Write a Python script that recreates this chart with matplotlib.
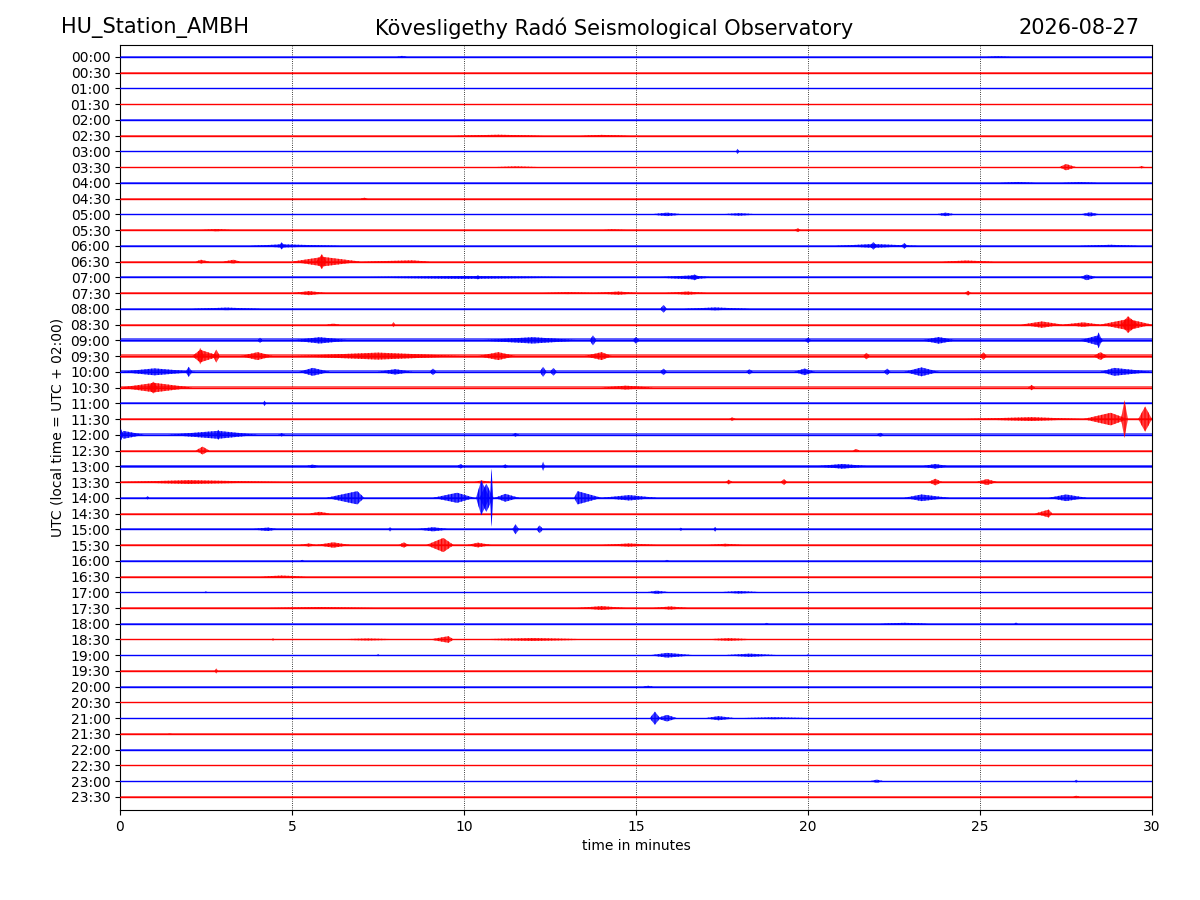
import matplotlib
matplotlib.use("Agg")
import matplotlib.pyplot as plt
from matplotlib.patches import Polygon

row_labels = [f"{h:02d}:{m:02d}" for h in range(24) for m in (0, 30)]
row_colors = ["#0000ff", "#ff0000"]

# background noise half-height per row (in units of row spacing)
noise_level = [0.03, 0.03, 0.05, 0.03, 0.03, 0.04, 0.05, 0.04, 0.04, 0.04,
               0.05, 0.05, 0.06, 0.07, 0.07, 0.07, 0.07, 0.07, 0.12, 0.15,
               0.10, 0.08, 0.07, 0.07, 0.09, 0.06, 0.08, 0.09, 0.07, 0.06,
               0.07, 0.07, 0.04, 0.04, 0.04, 0.04, 0.04, 0.05, 0.04, 0.04,
               0.03, 0.04, 0.04, 0.03, 0.03, 0.04, 0.04, 0.03]

# bursts: row label, start minute, peak minute, end minute, half amplitude (row units)
burst_row = ["00:00", "00:00",
             "02:30", "02:30",
             "03:00",
             "03:30", "03:30", "03:30",
             "04:00", "04:00",
             "04:30",
             "05:00", "05:00", "05:00", "05:00",
             "05:30", "05:30", "05:30",
             "06:00", "06:00", "06:00", "06:00", "06:00", "06:00",
             "06:30", "06:30", "06:30", "06:30", "06:30", "06:30",
             "07:00", "07:00", "07:00", "07:00", "07:00",
             "07:30", "07:30", "07:30", "07:30", "07:30",
             "08:00", "08:00", "08:00",
             "08:30", "08:30", "08:30", "08:30", "08:30", "08:30",
             "09:00", "09:00", "09:00", "09:00", "09:00", "09:00", "09:00", "09:00", "09:00",
             "09:30", "09:30", "09:30", "09:30", "09:30", "09:30", "09:30", "09:30", "09:30", "09:30",
             "10:00", "10:00", "10:00", "10:00", "10:00", "10:00", "10:00", "10:00", "10:00",
             "10:00", "10:00", "10:00", "10:00",
             "10:30", "10:30", "10:30", "10:30",
             "11:00",
             "11:30", "11:30", "11:30", "11:30", "11:30",
             "12:00", "12:00", "12:00", "12:00", "12:00", "12:00", "12:00",
             "12:30", "12:30",
             "13:00", "13:00", "13:00", "13:00", "13:00", "13:00",
             "13:30", "13:30", "13:30", "13:30", "13:30", "13:30",
             "14:00", "14:00", "14:00", "14:00", "14:00", "14:00", "14:00", "14:00", "14:00",
             "14:00", "14:00",
             "14:30", "14:30",
             "15:00", "15:00", "15:00", "15:00", "15:00", "15:00", "15:00",
             "15:30", "15:30", "15:30", "15:30", "15:30", "15:30", "15:30",
             "16:00", "16:00",
             "16:30",
             "17:00", "17:00", "17:00",
             "17:30", "17:30", "17:30",
             "18:00", "18:00", "18:00",
             "18:30", "18:30", "18:30", "18:30", "18:30",
             "19:00", "19:00", "19:00", "19:00",
             "19:30",
             "20:00",
             "21:00", "21:00", "21:00", "21:00",
             "21:30",
             "23:00", "23:00",
             "23:30"]
burst_t0 = [8.05, 25.2,
            9.7, 13.4,
            17.9,
            10.8, 27.3, 29.6,
            25.6, 27.4,
            7.0,
            15.4, 17.4, 23.7, 27.9,
            2.3, 19.6, 14.0,
            3.8, 4.6, 20.8, 21.8, 22.7, 27.9,
            5.0, 5.7, 2.2, 3.0, 23.9, 7.0,
            6.2, 10.3, 15.5, 16.5, 27.9,
            5.0, 13.7, 15.8, 24.55, 12.2,
            2.1, 15.7, 16.4,
            6.0, 7.9, 26.2, 27.4, 28.5, 29.1,
            4.0, 5.0, 10.4, 13.65, 14.9, 19.9, 23.3, 27.9, 28.35,
            2.1, 2.25, 2.7, 3.5, 5.0, 10.4, 13.5, 21.6, 25.0, 28.3,
            0.0, 1.9, 5.2, 7.5, 9.0, 12.2, 12.5, 15.7, 18.2,
            19.6, 22.2, 22.8, 28.5,
            0.0, 0.8, 14.0, 26.4,
            4.15,
            24.5, 28.0, 29.1, 29.6, 17.7,
            0.0, 0.0, 1.4, 2.8, 4.6, 22.0, 11.4,
            2.2, 21.3,
            5.4, 9.8, 11.1, 12.25, 20.2, 23.3,
            0.0, 17.6, 19.2, 23.5, 24.9, 10.3,
            0.75, 6.0, 9.1, 10.35, 10.45, 10.75, 10.9, 13.2, 14.0,
            22.8, 27.0,
            5.5, 26.6,
            3.8, 7.8, 8.6, 11.4, 12.1, 16.25, 17.25,
            5.2, 5.7, 8.1, 8.9, 10.1, 14.0, 17.1,
            5.25, 15.85,
            4.1,
            2.45, 15.3, 17.4,
            4.3, 13.3, 15.5,
            18.75, 22.1, 26.0,
            4.4, 6.0, 9.0, 10.1, 16.9,
            7.45, 15.4, 17.5, 19.95,
            2.75,
            15.2,
            15.4, 15.6, 17.0, 17.9,
            1.4,
            21.8, 27.75,
            27.7]
burst_tp = [8.2, 25.5,
            11.0, 14.0,
            17.95,
            11.5, 27.5, 29.7,
            26.1, 27.9,
            7.1,
            15.9, 18.0, 24.0, 28.2,
            2.8, 19.7, 14.3,
            4.7, 4.7, 21.9, 21.9, 22.8, 28.8,
            5.9, 5.87, 2.35, 3.3, 24.6, 8.5,
            10.0, 10.4, 16.6, 16.7, 28.1,
            5.5, 14.5, 16.5, 24.65, 13.0,
            3.1, 15.8, 17.3,
            6.2, 7.95, 26.8, 28.0, 29.3, 29.3,
            4.07, 5.8, 12.0, 13.75, 15.0, 20.0, 23.8, 28.4, 28.45,
            2.33, 2.33, 2.8, 4.0, 7.5, 11.0, 14.0, 21.7, 25.1, 28.5,
            1.0, 2.0, 5.6, 8.0, 9.1, 12.3, 12.6, 15.8, 18.3,
            19.9, 22.3, 23.3, 28.9,
            1.0, 0.97, 14.7, 26.5,
            4.2,
            26.5, 28.8, 29.2, 29.8, 17.8,
            0.1, 0.02, 2.85, 2.85, 4.7, 22.1, 11.5,
            2.4, 21.4,
            5.6, 9.9, 11.2, 12.3, 21.0, 23.7,
            2.0, 17.7, 19.3, 23.7, 25.2, 10.5,
            0.8, 6.9, 9.8, 10.5, 10.65, 10.8, 11.2, 13.3, 14.8,
            23.3, 27.5,
            5.8, 27.0,
            4.3, 7.85, 9.1, 11.5, 12.2, 16.3, 17.3,
            5.5, 6.2, 8.25, 9.4, 10.4, 14.8, 17.6,
            5.3, 15.9,
            4.7,
            2.5, 15.6, 18.0,
            5.8, 14.0, 16.0,
            18.8, 22.8, 26.05,
            4.45, 7.2, 9.55, 12.0, 17.7,
            7.5, 15.9, 18.3, 20.0,
            2.8,
            15.35,
            15.55, 15.9, 17.4, 19.0,
            1.45,
            22.0, 27.8,
            27.8]
burst_t1 = [8.35, 25.9,
            12.3, 14.8,
            18.0,
            12.3, 27.8, 29.8,
            26.6, 28.4,
            7.2,
            16.4, 18.6, 24.3, 28.5,
            3.3, 19.8, 14.8,
            6.4, 4.8, 23.2, 22.0, 22.9, 29.6,
            7.0, 6.0, 2.6, 3.5, 25.4, 9.0,
            14.0, 10.5, 17.3, 16.9, 28.4,
            6.0, 15.1, 17.1, 24.75, 14.0,
            4.1, 15.9, 18.3,
            6.4, 8.0, 27.4, 28.5, 30.0, 29.6,
            4.15, 6.7, 13.4, 13.85, 15.1, 20.1, 24.3, 28.6, 28.55,
            2.9, 2.45, 2.9, 4.45, 10.0, 11.5, 14.3, 21.8, 25.2, 28.7,
            2.2, 2.1, 6.1, 8.5, 9.2, 12.4, 12.7, 15.9, 18.4,
            20.2, 22.4, 23.8, 30.0,
            2.1, 1.1, 15.5, 26.6,
            4.25,
            28.0, 29.3, 29.3, 30.0, 17.9,
            0.7, 0.1, 4.0, 2.95, 4.8, 22.2, 11.6,
            2.6, 21.5,
            5.8, 10.0, 11.3, 12.35, 21.8, 24.1,
            4.8, 17.8, 19.4, 23.9, 25.5, 10.8,
            0.85, 7.1, 10.3, 10.75, 10.85, 10.85, 11.6, 14.0, 15.6,
            24.1, 28.1,
            6.1, 27.1,
            4.6, 7.9, 9.6, 11.6, 12.3, 16.35, 17.35,
            5.7, 6.7, 8.4, 9.7, 10.8, 15.6, 18.1,
            5.35, 15.95,
            5.4,
            2.55, 16.0, 18.7,
            7.4, 14.7, 16.5,
            18.85, 23.5, 26.1,
            4.5, 8.5, 9.7, 14.0, 18.6,
            7.55, 16.7, 19.2, 20.05,
            2.85,
            15.5,
            15.7, 16.2, 17.9, 20.3,
            1.5,
            22.2, 27.85,
            27.9]
burst_amp = [0.07, 0.04,
             0.06, 0.05,
             0.17,
             0.05, 0.20, 0.07,
             0.06, 0.05,
             0.06,
             0.11, 0.08, 0.11, 0.13,
             0.07, 0.12, 0.05,
             0.10, 0.22, 0.12, 0.25, 0.18, 0.07,
             0.30, 0.47, 0.12, 0.12, 0.07, 0.08,
             0.09, 0.13, 0.12, 0.18, 0.18,
             0.13, 0.10, 0.10, 0.15, 0.06,
             0.08, 0.25, 0.09,
             0.06, 0.17, 0.20, 0.14, 0.35, 0.53,
             0.17, 0.20, 0.20, 0.32, 0.21, 0.17, 0.21, 0.30, 0.50,
             0.40, 0.53, 0.42, 0.25, 0.22, 0.25, 0.25, 0.21, 0.25, 0.25,
             0.22, 0.32, 0.25, 0.17, 0.21, 0.32, 0.25, 0.21, 0.17,
             0.21, 0.21, 0.28, 0.25,
             0.30, 0.38, 0.12, 0.17,
             0.17,
             0.12, 0.40, 1.20, 0.80, 0.11,
             0.25, 0.40, 0.25, 0.32, 0.10, 0.13, 0.12,
             0.25, 0.10,
             0.11, 0.15, 0.12, 0.30, 0.15, 0.15,
             0.12, 0.15, 0.19, 0.21, 0.19, 0.10,
             0.11, 0.42, 0.32, 1.10, 0.90, 1.85, 0.25, 0.42, 0.17,
             0.21, 0.21,
             0.11, 0.25,
             0.11, 0.15, 0.13, 0.32, 0.25, 0.11, 0.15,
             0.10, 0.17, 0.17, 0.45, 0.15, 0.10, 0.08,
             0.06, 0.06,
             0.06,
             0.06, 0.10, 0.08,
             0.06, 0.12, 0.10,
             0.06, 0.06, 0.08,
             0.08, 0.06, 0.21, 0.09, 0.08,
             0.06, 0.15, 0.10, 0.06,
             0.17,
             0.06,
             0.42, 0.21, 0.13, 0.06,
             0.04,
             0.10, 0.10,
             0.08]

x_ticks = [0, 5, 10, 15, 20, 25, 30]
station = "HU_Station_AMBH"
observatory = "Kövesligethy Radó Seismological Observatory"
day = "2026-08-27"

# ---- figure ----
plt.rcParams["hatch.linewidth"] = 0.8
fig = plt.figure(figsize=(12, 9), dpi=100)
ax = fig.add_axes([0.1, 0.1, 0.86, 0.85])

n_rows = len(row_labels)
for i, lab in enumerate(row_labels):
    col = row_colors[i % 2]
    nl = noise_level[i]
    ax.fill_between([0, 30], [i - nl, i - nl], [i + nl, i + nl],
                    color=col, lw=0, alpha=0.6, zorder=2)
    ax.plot([0, 30], [i, i], color=col, lw=1.0, zorder=3)

for lab, t0, tp, t1, a in zip(burst_row, burst_t0, burst_tp, burst_t1, burst_amp):
    i = row_labels.index(lab)
    col = row_colors[i % 2]
    verts = [(t0, i), (tp, i - a), (t1, i), (tp, i + a)]
    ax.add_patch(Polygon(verts, closed=True, facecolor=col, edgecolor="none",
                         alpha=0.75, zorder=4))
    ax.add_patch(Polygon(verts, closed=True, facecolor="none", edgecolor=col,
                         hatch="|||||", lw=0, zorder=4))

ax.set_xlim(0, 30)
ax.set_ylim(n_rows - 1 + 0.83, -0.76)
ax.set_yticks(range(n_rows))
ax.set_yticklabels(row_labels, fontsize=10)
ax.set_xticks(x_ticks)
ax.set_xticklabels([str(v) for v in x_ticks], fontsize=10)
ax.grid(axis="x", color="black", linestyle=":", linewidth=0.6, zorder=1)
ax.set_axisbelow(True)
ax.set_xlabel("time in minutes", fontsize=10)
ax.set_ylabel("UTC (local time = UTC + 02:00)", fontsize=10)

fig.text(0.051, 0.969, station, fontsize=15, ha="left", va="center")
fig.text(0.512, 0.969, observatory, fontsize=15, ha="center", va="center")
fig.text(0.95, 0.969, day, fontsize=15, ha="right", va="center")

fig.savefig("out.png", dpi=100)
